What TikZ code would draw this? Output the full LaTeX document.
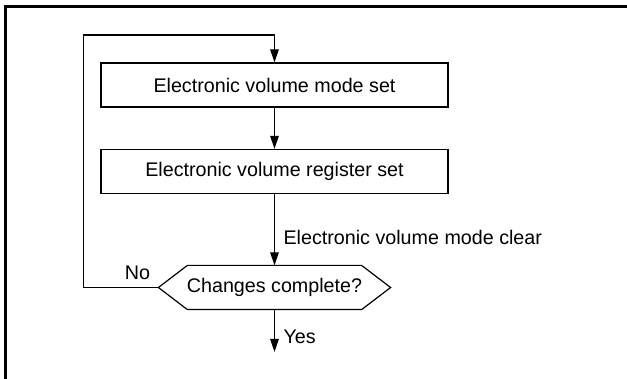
\documentclass[tikz,border=0pt]{standalone}
\usepackage{fontspec}
\setmainfont{Liberation Sans}
\usetikzlibrary{arrows.meta}
\begin{document}
\begin{tikzpicture}[x=1pt,y=-1pt, line width=1.2pt,
  font=\fontsize{19.7}{23}\selectfont,
  box/.style={draw, rectangle, minimum width=347pt, minimum height=44pt, inner sep=0pt},
  decision/.style={rectangle, minimum width=231pt, minimum height=43pt, inner sep=0pt},
  arr/.style={-{Triangle[length=13pt,width=8.5pt]}},
  lbl/.style={inner sep=0pt, anchor=west}]
\useasboundingbox (0,0) rectangle (627,379);
% frame
\draw[line width=3pt] (5.5,381) -- (5.5,6.5) -- (629,6.5);
% nodes
\node[box] (b1) at (274.5,85) {Electronic volume mode set};
\node[box] (b2) at (274.5,171.5) {Electronic volume register set};
\node[decision] (hex) at (274.5,287.5) {Changes complete?};
\draw (hex.west) -- ([xshift=29pt]hex.north west) -- ([xshift=-29pt]hex.north east)
  -- (hex.east) -- ([xshift=-29pt]hex.south east) -- ([xshift=29pt]hex.south west) -- cycle;
\coordinate (c1) at (83.5,287.5);
\coordinate (c2) at (83.5,35);
\coordinate (c3) at (274.5,35);
\coordinate (yend) at (274.5,352);
% connectors
\draw[arr] (b1) -- (b2);
\draw[arr] (b2) -- (hex.north);
\draw[arr] (hex.west) -- (c1) -- (c2) -- (c3) -- (b1.north);
\draw[arr] (hex.south) -- (yend);
% labels
\node[lbl] (lclear) at (283,237) {Electronic volume mode clear};
\node[lbl] (lyes) at (283,337) {Yes};
\node[inner sep=0pt] (lno) at (137.5,273) {No};
\end{tikzpicture}
\end{document}
